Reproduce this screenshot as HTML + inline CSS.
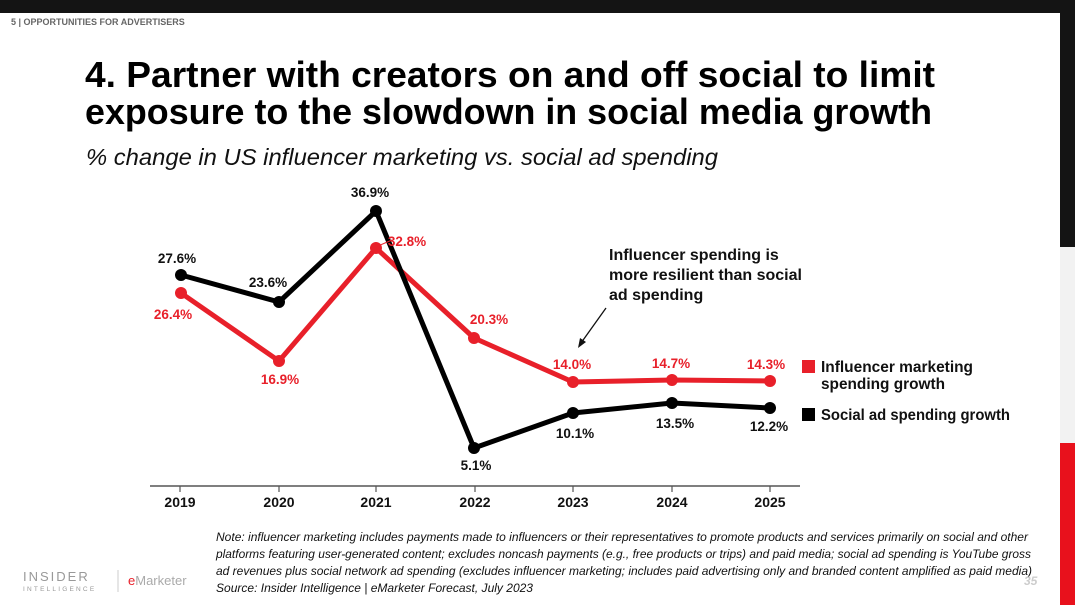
<!DOCTYPE html>
<html><head><meta charset="utf-8"><style>
html,body{margin:0;padding:0;}
body{width:1075px;height:605px;position:relative;overflow:hidden;background:#fff;font-family:"Liberation Sans",Arial,sans-serif;}
.abs{position:absolute;}
</style></head><body>
<div class="abs" style="left:0;top:0;width:1075px;height:13px;background:#141414"></div>
<div class="abs" style="left:1060px;top:0;width:15px;height:247px;background:#141414"></div>
<div class="abs" style="left:1060px;top:247px;width:15px;height:196px;background:#f2f2f2"></div>
<div class="abs" style="left:1060px;top:443px;width:15px;height:162px;background:#e8111c"></div>
<div class="abs" style="left:11px;top:17px;font-size:9px;font-weight:bold;color:#666">5 | OPPORTUNITIES FOR ADVERTISERS</div>
<svg class="abs" style="left:0;top:0" width="1075" height="605" font-family="Liberation Sans,Arial,sans-serif">
<g font-size="36" font-weight="bold" fill="#000">
<text x="85" y="87" textLength="850" lengthAdjust="spacingAndGlyphs">4. Partner with creators on and off social to limit</text>
<text x="85" y="124" textLength="847" lengthAdjust="spacingAndGlyphs">exposure to the slowdown in social media growth</text>
</g>
<text x="86" y="165" font-size="23" font-style="italic" fill="#111" textLength="632" lengthAdjust="spacingAndGlyphs">% change in US influencer marketing vs. social ad spending</text>
<line x1="150" y1="486" x2="800" y2="486" stroke="#555" stroke-width="1.5"/>
<g stroke="#555" stroke-width="1.2">
<line x1="180" y1="486" x2="180" y2="492"/><line x1="279" y1="486" x2="279" y2="492"/><line x1="376" y1="486" x2="376" y2="492"/><line x1="475" y1="486" x2="475" y2="492"/><line x1="573" y1="486" x2="573" y2="492"/><line x1="672" y1="486" x2="672" y2="492"/><line x1="770" y1="486" x2="770" y2="492"/>
</g>
<g font-size="14" font-weight="bold" text-anchor="middle" fill="#111">
<text x="180" y="507">2019</text><text x="279" y="507">2020</text><text x="376" y="507">2021</text><text x="475" y="507">2022</text><text x="573" y="507">2023</text><text x="672" y="507">2024</text><text x="770" y="507">2025</text>
</g>
<polyline points="181,293 279,361 376,248 474,338 573,382 672,380 770,381" fill="none" stroke="#e8202a" stroke-width="5" stroke-linejoin="round"/>
<g fill="#e8202a"><circle cx="181" cy="293" r="6"/><circle cx="279" cy="361" r="6"/><circle cx="376" cy="248" r="6"/><circle cx="474" cy="338" r="6"/><circle cx="573" cy="382" r="6"/><circle cx="672" cy="380" r="6"/><circle cx="770" cy="381" r="6"/></g>
<polyline points="181,275 279,302 376,211 474,448 573,413 672,403 770,408" fill="none" stroke="#000" stroke-width="5" stroke-linejoin="round"/>
<g fill="#000"><circle cx="181" cy="275" r="6"/><circle cx="279" cy="302" r="6"/><circle cx="376" cy="211" r="6"/><circle cx="474" cy="448" r="6"/><circle cx="573" cy="413" r="6"/><circle cx="672" cy="403" r="6"/><circle cx="770" cy="408" r="6"/></g>
<g font-size="13.5" font-weight="bold" text-anchor="middle" fill="#e8202a">
<text x="173" y="319">26.4%</text><text x="280" y="384">16.9%</text><text x="407" y="246">32.8%</text><text x="489" y="324">20.3%</text><text x="572" y="369">14.0%</text><text x="671" y="368">14.7%</text><text x="766" y="369">14.3%</text>
</g>
<line x1="378" y1="246" x2="392" y2="240" stroke="#e8202a" stroke-width="1"/>
<g font-size="13.5" font-weight="bold" text-anchor="middle" fill="#111">
<text x="177" y="263">27.6%</text><text x="268" y="287">23.6%</text><text x="370" y="197">36.9%</text><text x="476" y="470">5.1%</text><text x="575" y="438">10.1%</text><text x="675" y="428">13.5%</text><text x="769" y="431">12.2%</text>
</g>
<g font-size="16" font-weight="bold" fill="#111">
<text x="609" y="260">Influencer spending is</text><text x="609" y="280">more resilient than social</text><text x="609" y="300">ad spending</text>
</g>
<line x1="606" y1="308" x2="581" y2="343" stroke="#111" stroke-width="1.3"/>
<polygon points="578,348 580,338 586,342" fill="#111"/>
<rect x="802" y="360" width="13" height="13" fill="#e8202a"/>
<rect x="802" y="408" width="13" height="13" fill="#000"/>
<g font-size="15.5" fill="#111" font-weight="bold">
<text x="821" y="372" textLength="152" lengthAdjust="spacingAndGlyphs">Influencer marketing</text><text x="821" y="389" textLength="124" lengthAdjust="spacingAndGlyphs">spending growth</text><text x="821" y="420" textLength="189" lengthAdjust="spacingAndGlyphs">Social ad spending growth</text>
</g>
<g font-size="11.5" font-style="italic" fill="#111">
<text x="216" y="541" textLength="812" lengthAdjust="spacingAndGlyphs">Note: influencer marketing includes payments made to influencers or their representatives to promote products and services primarily on social and other</text>
<text x="216" y="558" textLength="815" lengthAdjust="spacingAndGlyphs">platforms featuring user-generated content; excludes noncash payments (e.g., free products or trips) and paid media; social ad spending is YouTube gross</text>
<text x="216" y="575" textLength="816" lengthAdjust="spacingAndGlyphs">ad revenues plus social network ad spending (excludes influencer marketing; includes paid advertising only and branded content amplified as paid media)</text>
<text x="216" y="592" textLength="317" lengthAdjust="spacingAndGlyphs">Source: Insider Intelligence | eMarketer Forecast, July 2023</text>
</g>
<text x="1024" y="585" font-size="12" font-style="italic" font-weight="bold" fill="#ccc">35</text>
<text x="23" y="581" font-size="13" fill="#999" letter-spacing="2">INSIDER</text>
<text x="23" y="591" font-size="6.5" fill="#999" letter-spacing="2.2">INTELLIGENCE</text>
<line x1="118" y1="570" x2="118" y2="592" stroke="#ccc" stroke-width="1"/>
<text x="128" y="585" font-size="13" fill="#aaa"><tspan fill="#e8202a">e</tspan>Marketer</text>
</svg>
</body></html>
